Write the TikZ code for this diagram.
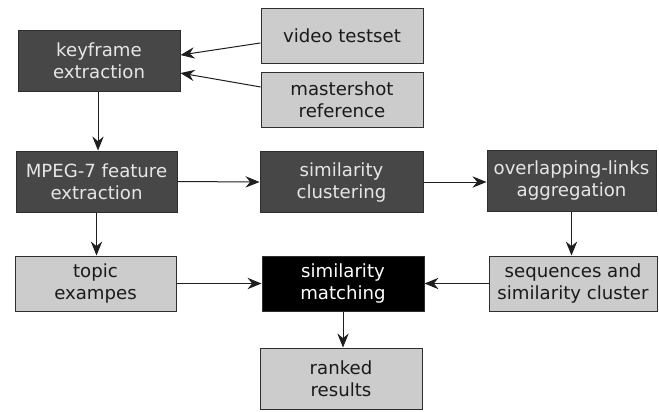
\documentclass[tikz,border=0pt]{standalone}
\usepackage{fontspec}
\setmainfont{DejaVu Sans}
\usetikzlibrary{arrows.meta}
\definecolor{darkfill}{HTML}{474747}
\definecolor{darktext}{HTML}{E6E6E6}
\definecolor{lightfill}{HTML}{CCCCCC}
\definecolor{lighttext}{HTML}{1A1A1A}
\definecolor{edgecol}{HTML}{2E2E2E}
\definecolor{linecol}{HTML}{1E1E1E}
\begin{document}
\begin{tikzpicture}[x=0.75pt,y=-0.75pt,
  box/.style={draw=edgecol, line width=0.75pt, align=center, inner sep=0pt,
    font=\fontsize{13.6}{16.5}\selectfont},
  tall/.style={minimum height=45.75pt},
  short/.style={minimum height=41.25pt},
  darkbox/.style={box, fill=darkfill, text=darktext},
  lightbox/.style={box, fill=lightfill, text=lighttext},
  blackbox/.style={box, fill=black, text=white},
  conn/.style={draw=linecol, line width=0.75pt,
    -{Stealth[length=10.5pt, width=8.5pt, inset=3.5pt]}}
]
\useasboundingbox (0,0) rectangle (659,411);
\node[darkbox, tall, minimum width=121.5pt] (kf) at (99,60.5) {keyframe\\extraction};
\node[lightbox, short, minimum width=121.5pt] (vt) at (342,35.5) {video testset};
\node[lightbox, short, minimum width=121.5pt] (ms) at (342,99.5) {mastershot\\reference};
\node[darkbox, tall, minimum width=120.75pt] (mp) at (96.5,181.5) {MPEG-7 feature\\extraction};
\node[darkbox, tall, minimum width=122.25pt] (sc) at (341.5,182) {similarity\\clustering};
\node[darkbox, tall, minimum width=126.75pt] (ol) at (571.5,180.5) {overlapping-links\\aggregation};
\node[lightbox, short, minimum width=120.75pt] (te) at (95.5,283.5) {topic\\exampes};
\node[blackbox, short, minimum width=121.5pt] (sm) at (343,283.5) {similarity\\matching};
\node[lightbox, short, minimum width=126pt] (sq) at (573,283.5) {sequences and\\similarity cluster};
\node[lightbox, tall, minimum width=121.5pt] (rr) at (341,378.5) {ranked\\results};

\draw[conn] ([yshift=-5.6pt]vt.west) -- ([yshift=4.1pt]kf.east);
\draw[conn] ([yshift=9.4pt]ms.west) -- ([yshift=-9.4pt]kf.east);
\draw[conn] ([xshift=-0.75pt]kf.south) -- ([xshift=-0.75pt]kf.south |- mp.north);
\draw[conn] (mp.east) -- (sc.west);
\draw[conn] (sc.east) -- (sc.east -| ol.west);
\draw[conn] (ol.south) -- (ol.south |- sq.north);
\draw[conn] (mp.south) -- (mp.south |- te.north);
\draw[conn] (te.east) -- (sm.west);
\draw[conn] (sq.west) -- (sm.east);
\draw[conn] (sm.south) -- (sm.south |- rr.north);
\end{tikzpicture}
\end{document}
